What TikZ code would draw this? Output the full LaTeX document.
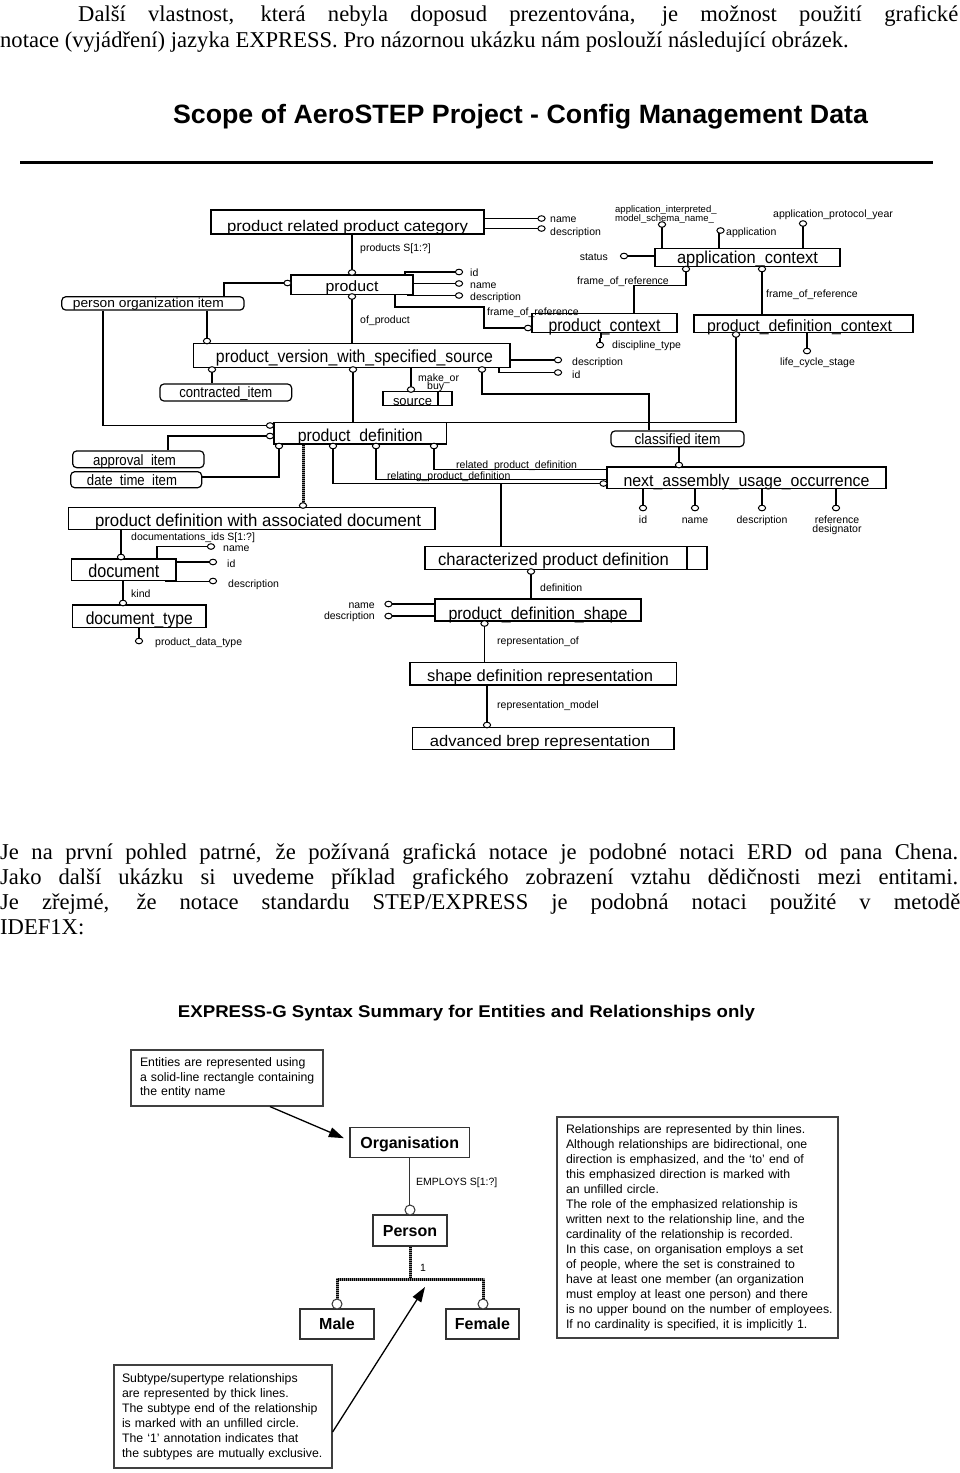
\documentclass[tikz,border=0pt]{standalone}
\usepackage{fontspec}
\setmainfont{Liberation Serif}
\setsansfont{Liberation Sans}
\usepackage{graphicx}
\usetikzlibrary{arrows.meta}
\newcommand\fitx[2]{\resizebox{#1pt}{\height}{#2}}
\newcommand\oc[2]{\draw[circ] (#1,#2) ellipse [x radius=3.6pt, y radius=2.8pt];}
\tikzset{
 body/.style={inner sep=0pt, font=\fontsize{22.6}{26}\selectfont},
 ent/.style={draw, line width=1.2pt, inner sep=0pt, text depth=0pt},
 rnd/.style={ent, rounded corners=4pt},
 fs/.style={font=\sffamily\fontsize{#1}{#1}\selectfont},
 lnk/.style={line width=1.1pt},
 circ/.style={draw, fill=white, line width=1pt},
 lab/.style={inner sep=0pt, text height=7.5pt, text depth=0pt, font=\sffamily\fontsize{10.5}{10.5}\selectfont},
 labs/.style={inner sep=0pt, text height=6.5pt, text depth=0pt, font=\sffamily\fontsize{9.5}{9.5}\selectfont},
 thickl/.style={line width=3pt, draw=black!45, postaction={draw=black, line width=3pt, dash pattern=on 1pt off 1pt}},
 ebold/.style={draw=black!80, line width=1.3pt, inner sep=0pt, text depth=0pt, font=\sffamily\bfseries\fontsize{16}{16}\selectfont},
 note/.style={draw=black!75, line width=1.2pt, inner ysep=0pt, align=left, font=\sffamily\fontsize{12.3}{15}\selectfont},
 rel/.style={line width=1.1pt, draw=black!80},
 arr/.style={line width=1.3pt, -{Triangle[length=15pt,width=10pt]}},
}
\begin{document}
\begin{tikzpicture}[x=1pt,y=-1pt]
\useasboundingbox (0,0) rectangle (960,1473);
\fill[white] (0,0) rectangle (960,1473);

% ---------- body text ----------
\node[body, anchor=base west] (p1a) at (78,21) {\makebox[880pt][s]{Další vlastnost, která nebyla doposud prezentována, je možnost použití grafické}};
\node[body, anchor=base west] (p1b) at (0,47) {notace (vyjádření) jazyka EXPRESS. Pro názornou ukázku nám poslouží následující obrázek.};
\node[body, anchor=base west] (p2a) at (0,859) {\makebox[958pt][s]{Je na první pohled patrné, že požívaná grafická notace je podobné notaci ERD od pana Chena.}};
\node[body, anchor=base west] (p2b) at (0,884) {\makebox[958pt][s]{Jako další ukázku si uvedeme příklad grafického zobrazení vztahu dědičnosti mezi entitami.}};
\node[body, anchor=base west] (p2c) at (0,909) {\makebox[960pt][s]{Je zřejmé, že notace standardu STEP/EXPRESS je podobná notaci použité v~metodě}};
\node[body, anchor=base west] (p2d) at (0,934) {IDEF1X:};

% ---------- diagram 1 ----------
\node[anchor=base, inner sep=0pt, font=\sffamily\bfseries\fontsize{26.5}{26.5}\selectfont] (t1) at (520.5,123) {\fitx{695}{Scope of AeroSTEP Project - Config Management Data}};
\draw[line width=3pt] (20,162) -- (933,162);

\node[ent, fs=15.4, minimum width=273pt, minimum height=24pt, text height=18pt] (prpc) at (347.5,222) {\fitx{241}{product related product category}};
\node[ent, fs=15, minimum width=122pt, minimum height=19.3pt, text height=14.2pt] (prod) at (352,284.6) {\fitx{53}{product}};
\node[rnd, fs=13.1, minimum width=182.3pt, minimum height=13.3pt, text height=8.6pt] (porg) at (152.9,303.4) {\fitx{151}{person organization item}\hspace*{9pt}};
\node[ent, fs=17.5, minimum width=316.7pt, minimum height=24pt, text height=13.4pt] (pvwss) at (351.7,355.3) {\hspace*{5.6pt}\fitx{277}{product\_version\_with\_specified\_source}};
\node[rnd, fs=15, minimum width=131.7pt, minimum height=17pt, text height=9.6pt] (contr) at (225.8,392.5) {\fitx{93}{contracted\_item}};
\node[ent, fs=13, minimum width=69pt, minimum height=13.8pt, text height=12.8pt] (src) at (417.5,398.6) {\fitx{39}{source}\hspace*{10pt}};
\node[ent, fs=17.3, minimum width=172.7pt, minimum height=21.3pt, text height=16.8pt] (pdef) at (360.3,433.3) {\fitx{125}{product\_definition}};
\node[rnd, fs=15, minimum width=131.3pt, minimum height=16.7pt, text height=11.4pt] (appr) at (138.3,459.3) {\fitx{83}{approval\_item}\hspace*{7.6pt}};
\node[rnd, fs=15, minimum width=131pt, minimum height=16pt, text height=10.6pt] (dti) at (136.2,479.7) {\fitx{90}{date\_time\_item}\hspace*{8.4pt}};
\node[ent, fs=17.3, minimum width=366.7pt, minimum height=21.6pt, text height=16.4pt] (pdwad) at (251.7,518.5) {\hspace*{12.6pt}\fitx{326}{product definition with associated document}};
\node[ent, fs=18.5, minimum width=104.3pt, minimum height=21.7pt, text height=15.8pt] (doc) at (123.8,569.8) {\fitx{71}{document}};
\node[ent, fs=17.5, minimum width=133.3pt, minimum height=22.3pt, text height=16.2pt] (dtype) at (139.3,616.2) {\fitx{107}{document\_type}};
\node[ent, fs=17.3, minimum width=282pt, minimum height=22.6pt, text height=15.4pt] (cpd) at (566,558) {\fitx{231}{characterized product definition}\hspace*{25pt}};
\node[ent, fs=17.2, minimum width=206pt, minimum height=22pt, text height=18pt] (pds) at (538,610) {\fitx{179}{product\_definition\_shape}};
\node[ent, fs=16.3, minimum width=266.7pt, minimum height=22.3pt, text height=15.6pt] (sdr) at (543.3,673.9) {\fitx{226}{shape definition representation}\hspace*{6.6pt}};
\node[ent, fs=15.4, minimum width=261.3pt, minimum height=22pt, text height=15.4pt] (adv) at (543.3,738.3) {\fitx{220}{advanced brep representation}\hspace*{6.6pt}};
\node[rnd, fs=15, minimum width=133pt, minimum height=15.7pt, text height=10.4pt] (cls) at (677.5,438.8) {\fitx{86}{classified item}};
\node[ent, fs=16.8, minimum width=279pt, minimum height=21.3pt, text height=16.8pt] (nauo) at (746.5,477.6) {\fitx{246}{next\_assembly\_usage\_occurrence}};
\node[ent, fs=17.7, minimum width=145pt, minimum height=19.4pt, text height=16pt] (pctx) at (604.5,323) {\fitx{112}{product\_context}};
\node[ent, fs=17.2, minimum width=185pt, minimum height=18.4pt, text height=11.6pt] (actx) at (747.5,257.5) {\fitx{141}{application\_context}};
\node[ent, fs=16.3, minimum width=219pt, minimum height=17.3pt, text height=16.2pt] (pdc) at (803.5,323.6) {\fitx{185}{product\_definition\_context}\hspace*{8pt}};

% dividers
\draw[lnk] (438,0 |- src.north) -- (438,0 |- src.south);
\draw[lnk] (687,0 |- cpd.north) -- (687,0 |- cpd.south);

% connectors
\draw[lnk] (352,0 |- prpc.south) -- (352,0 |- prod.north);
\draw[lnk] (prpc.east |- 0,218.5) -- (539,218.5);
\draw[lnk] (prpc.east |- 0,228.5) -- (539,228.5);
\draw[lnk] (224,0 |- porg.north) -- (224,283) -- (prod.west |- 0,283);
\draw[lnk] (405,0 |- prod.north) -- (405,272) -- (456,272);
\draw[lnk] (prod.east |- 0,283.5) -- (456,283.5);
\draw[lnk] (408,0 |- prod.south) -- (408,295.5) -- (456,295.5);
\draw[lnk] (352,0 |- prod.south) -- (352,0 |- pvwss.north);
\draw[lnk] (395,0 |- prod.south) -- (395,307) -- (484,307) -- (484,328) -- (pctx.west |- 0,328);
\draw[lnk] (207,0 |- porg.south) -- (207,0 |- pvwss.north);
\draw[lnk] (103,0 |- porg.south) -- (103,425.5) -- (pdef.west |- 0,425.5);
\draw[lnk] (212,0 |- pvwss.south) -- (212,0 |- contr.north);
\draw[lnk] (353,0 |- pvwss.south) -- (353,0 |- pdef.north);
\draw[lnk] (411,0 |- pvwss.south) -- (411,0 |- src.north);
\draw[lnk] (pvwss.east |- 0,360) -- (555,360);
\draw[lnk] (499,0 |- pvwss.south) -- (499,372.5) -- (555,372.5);
\draw[lnk] (482,0 |- pvwss.south) -- (482,394) -- (649,394) -- (649,0 |- cls.north);
\draw[lnk] (pdef.west |- 0,436) -- (168,436) -- (168,0 |- appr.north);
\draw[lnk] (279,0 |- pdef.south) -- (279,477) -- (dti.east |- 0,477);
\draw[thickl] (303,0 |- pdef.south) -- (303,0 |- pdwad.north);
\draw[lnk] (333,0 |- pdef.south) -- (333,483.5) -- (nauo.west |- 0,483.5);
\draw[lnk] (376,0 |- pdef.south) -- (376,479.5) -- (nauo.west |- 0,479.5);
\draw[lnk] (434,0 |- pdef.south) -- (434,469.5) -- (nauo.west |- 0,469.5);
\draw[lnk] (501,0 |- cpd.north) -- (501,483.5);
\draw[lnk] (736,0 |- pdc.south) -- (736,0 |- pdef.north) -- (pdef.north east);
\draw[lnk] (actx.west |- 0,256) -- (627,256);
\draw[lnk] (662,0 |- actx.north) -- (662,227);
\draw[lnk] (719,0 |- actx.north) -- (719,233);
\draw[lnk] (803,0 |- actx.north) -- (803,226);
\draw[lnk] (686,0 |- actx.south) -- (686,285.5) -- (634,285.5) -- (634,0 |- pctx.north);
\draw[lnk] (762,0 |- actx.south) -- (762,0 |- pdc.north);
\draw[line width=2.4pt] (601,0 |- pctx.south) -- (601,338);
\draw[lnk] (600,338) -- (600,342);
\draw[lnk] (807,0 |- pdc.south) -- (807,348);
\draw[lnk] (679,0 |- cls.south) -- (679,0 |- nauo.north);
\foreach \x in {643,695,762,836} \draw[lnk] (\x,0 |- nauo.south) -- (\x,505);
\draw[lnk] (121,0 |- pdwad.south) -- (121,0 |- doc.north);
\draw[lnk] (157,0 |- doc.north) -- (157,546.5) -- (208,546.5);
\draw[lnk] (doc.east |- 0,562) -- (210,562);
\draw[lnk] (165,0 |- doc.south) -- (210,0 |- doc.south);
\draw[lnk] (123,0 |- doc.south) -- (123,0 |- dtype.north);
\draw[lnk] (139,0 |- dtype.south) -- (139,638);
\draw[lnk] (531,0 |- cpd.south) -- (531,0 |- pds.north);
\draw[lnk] (pds.west |- 0,604) -- (391,604);
\draw[lnk] (pds.west |- 0,616) -- (391,616);
\draw[lnk] (484.5,0 |- pds.south) -- (484.5,0 |- sdr.north);
\draw[lnk] (487,0 |- sdr.south) -- (487,0 |- adv.north);

% circles
\oc{352}{272.5} \oc{541.5}{218.5} \oc{541.5}{228.5}
\oc{287.5}{283} \oc{459}{272} \oc{459}{283.5} \oc{459}{295.5} \oc{352}{296.5} \oc{528}{328}
\oc{207}{341} \oc{270}{425.5}
\oc{212}{369.5} \oc{353}{369.5} \oc{411}{389.5} \oc{558}{360} \oc{558}{372.5} \oc{482}{369.5}
\oc{270}{436} \oc{279}{446} \oc{303}{505.5} \oc{333}{446} \oc{376}{446} \oc{434}{446} \oc{603.5}{483.5}
\oc{736}{334.5}
\oc{624}{256} \oc{662}{224.5} \oc{720.5}{230.5} \oc{803}{223.5} \oc{686}{269} \oc{762}{269}
\oc{600}{345} \oc{807}{351}
\oc{679}{465} \oc{643}{508} \oc{695}{508} \oc{762}{508} \oc{836}{508}
\oc{121}{557} \oc{211}{546.5} \oc{213}{562} \oc{213}{581} \oc{123}{603} \oc{139}{641}
\oc{531}{571.5} \oc{388.5}{604} \oc{388.5}{616} \oc{484.5}{623.5} \oc{487}{725}

% labels
\node[lab, anchor=west] (l1) at (360,248) {products S[1:?]};
\node[lab, anchor=west] (l2) at (550,219) {name};
\node[lab, anchor=west] (l3) at (550,231.5) {description};
\node[lab, anchor=west] (l4) at (470,273) {id};
\node[lab, anchor=west] (l5) at (470,285) {name};
\node[lab, anchor=west] (l6) at (470,297) {description};
\node[lab, anchor=west] (l7) at (360,320) {of\_product};
\node[lab, anchor=west] (l8) at (487,311.5) {frame\_of\_reference};
\node[lab, anchor=west] (l9) at (418,377.5) {make\_or};
\node[lab, anchor=west] (l10) at (427,386) {buy};
\node[lab, anchor=west] (l11) at (572,362) {description};
\node[lab, anchor=west] (l12) at (572,374.5) {id};
\node[lab, anchor=east] (l13) at (608,257) {status};
\node[labs, anchor=west] (l14) at (615,209.5) {application\_interpreted\_};
\node[labs, anchor=west] (l15) at (615,218.5) {model\_schema\_name\_};
\node[lab, anchor=west] (l16) at (726,232) {application};
\node[lab, anchor=west] (l17) at (773,214) {application\_protocol\_year};
\node[lab, anchor=west] (l18) at (577,280.5) {frame\_of\_reference};
\node[lab, anchor=west] (l19) at (766,293.5) {frame\_of\_reference};
\node[lab, anchor=west] (l20) at (612,345) {discipline\_type};
\node[lab, anchor=west] (l21) at (780,362) {life\_cycle\_stage};
\node[lab, anchor=west] (l22) at (456,465) {related\_product\_definition};
\node[lab, anchor=west] (l23) at (387,475.5) {relating\_product\_definition};
\node[lab] (l24) at (643,520) {id};
\node[lab] (l25) at (695,520) {name};
\node[lab] (l26) at (762,520) {description};
\node[lab] (l27) at (837,520) {reference};
\node[lab] (l28) at (837,528.5) {designator};
\node[lab, anchor=west] (l29) at (131,537) {documentations\_ids S[1:?]};
\node[lab, anchor=west] (l30) at (223,548) {name};
\node[lab, anchor=west] (l31) at (227,564) {id};
\node[lab, anchor=west] (l32) at (228,583.5) {description};
\node[lab, anchor=west] (l33) at (131,594) {kind};
\node[lab, anchor=west] (l34) at (155,641.5) {product\_data\_type};
\node[lab, anchor=east] (l35) at (375,604.5) {name};
\node[lab, anchor=east] (l36) at (375,616) {description};
\node[lab, anchor=west] (l37) at (540,588) {definition};
\node[lab, anchor=west] (l38) at (497,641) {representation\_of};
\node[lab, anchor=west] (l39) at (497,705) {representation\_model};

% ---------- diagram 2 ----------
\node[anchor=base, inner sep=0pt, font=\sffamily\bfseries\fontsize{17}{17}\selectfont] (t2) at (466.5,1017) {\fitx{577}{EXPRESS-G Syntax Summary for Entities and Relationships only}};

\node[note, minimum width=192pt, minimum height=56pt, text width=174pt, inner xsep=9pt, font=\sffamily\fontsize{12.3}{14.8}\selectfont] (entn) at (227,1078) {\mbox{Entities are represented using}\\\mbox{a solid-line rectangle containing}\\\mbox{the entity name}};
\node[note, minimum width=281pt, minimum height=221pt, text width=263pt, inner xsep=9pt] (reln) at (697.5,1227.5) {\mbox{Relationships are represented by thin lines.}\\\mbox{Although relationships are bidirectional, one}\\\mbox{direction is emphasized, and the `to' end of}\\\mbox{this emphasized direction is marked with}\\\mbox{an unfilled circle.}\\\mbox{The role of the emphasized relationship is}\\\mbox{written next to the relationship line, and the}\\\mbox{cardinality of the relationship is recorded.}\\\mbox{In this case, on organisation employs a set}\\\mbox{of people, where the set is constrained to}\\\mbox{have at least one member (an organization}\\\mbox{must employ at least one person) and there}\\\mbox{is no upper bound on the number of employees.}\\\mbox{If no cardinality is specified, it is implicitly 1.}};
\node[note, minimum width=218pt, minimum height=103pt, text width=202pt, inner xsep=8pt] (subn) at (223,1416.5) {\mbox{Subtype/supertype relationships}\\\mbox{are represented by thick lines.}\\\mbox{The subtype end of the relationship}\\\mbox{is marked with an unfilled circle.}\\\mbox{The `1' annotation indicates that}\\\mbox{the subtypes are mutually exclusive.}};

\node[ebold, minimum width=119.3pt, minimum height=30pt, text height=12pt] (org) at (409.7,1142.3) {Organisation};
\node[ebold, minimum width=74pt, minimum height=31pt, text height=11pt] (pers) at (410,1230.5) {Person};
\node[ebold, minimum width=74pt, minimum height=30pt, text height=10pt] (male) at (337,1324) {Male};
\node[ebold, minimum width=73pt, minimum height=30pt, text height=10pt] (fem) at (482.5,1324) {Female};

\draw[rel] (409.7,0 |- org.south) -- (409.7,0 |- pers.north);
\draw[circ, draw=black!80] (410,1210) circle [radius=5pt];
\node[lab, anchor=west] (emp) at (416,1182) {EMPLOYS S[1:?]};

\draw[thickl] (410,0 |- pers.south) -- (410,1279);
\draw[thickl] (337,0 |- male.north) -- (337,1279) -- (483,1279) -- (483,0 |- fem.north);
\draw[circ, draw=black!80] (337,1304) circle [radius=5pt];
\draw[circ, draw=black!80] (483,1304) circle [radius=5pt];
\node[lab, anchor=west] (one) at (420,1268) {1};

\draw[arr, shorten >=6pt] (270,0 |- entn.south) -- (org.west |- 0,1140.5);
\coordinate (stip) at (425,1287);
\draw[arr] (subn.east |- 0,1432) -- (stip);
\end{tikzpicture}
\end{document}
